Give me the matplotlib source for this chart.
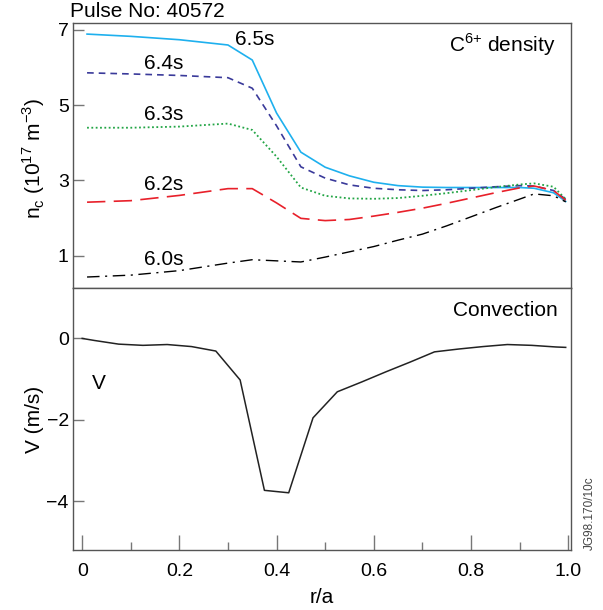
import matplotlib.pyplot as plt
import numpy as np

plt.rcParams['font.family'] = ['Liberation Sans', 'DejaVu Sans']

# radial positions (r/a) for the density profiles
r_n = [0.01, 0.1, 0.2, 0.3, 0.35, 0.4, 0.45, 0.5, 0.55, 0.6, 0.65, 0.7,
       0.75, 0.8, 0.85, 0.9, 0.93, 0.97, 0.995]

# C6+ density (10^17 m^-3) at each time
n_65 = [6.89, 6.83, 6.74, 6.60, 6.20, 4.79, 3.75, 3.35, 3.12, 2.95, 2.86, 2.82,
        2.81, 2.81, 2.81, 2.81, 2.79, 2.67, 2.44]
n_64 = [5.86, 5.83, 5.79, 5.73, 5.45, 4.45, 3.36, 3.06, 2.88, 2.79, 2.75, 2.73,
        2.75, 2.79, 2.83, 2.86, 2.85, 2.73, 2.50]
n_63 = [4.40, 4.40, 4.43, 4.51, 4.34, 3.63, 2.81, 2.59, 2.52, 2.51, 2.53, 2.59,
        2.66, 2.74, 2.82, 2.89, 2.92, 2.83, 2.50]
n_62 = [2.42, 2.46, 2.60, 2.78, 2.78, 2.40, 1.99, 1.93, 1.96, 2.05, 2.15, 2.26,
        2.39, 2.53, 2.67, 2.80, 2.85, 2.73, 2.47]
n_60 = [0.43, 0.48, 0.60, 0.80, 0.89, 0.86, 0.83, 0.96, 1.10, 1.24, 1.41, 1.57,
        1.79, 2.03, 2.27, 2.50, 2.64, 2.59, 2.43]

# convection velocity profile
r_v = [0.0, 0.025, 0.075, 0.125, 0.175, 0.225, 0.275, 0.325, 0.375, 0.425,
       0.475, 0.525, 0.575, 0.625, 0.675, 0.725, 0.775, 0.825, 0.875, 0.925,
       0.975, 0.995]
v = [0.0, -0.05, -0.14, -0.17, -0.15, -0.2, -0.31, -1.02, -3.73, -3.79,
     -1.95, -1.31, -1.07, -0.82, -0.58, -0.33, -0.26, -0.2, -0.15, -0.17,
     -0.21, -0.22]

x_ticks = [0, 0.2, 0.4, 0.6, 0.8, 1.0]
x_labels = ['0', '0.2', '0.4', '0.6', '0.8', '1.0']

fs = 15

fig = plt.figure(figsize=(6.03, 6.10), dpi=100)
ax1 = fig.add_axes([0.121, 0.528, 0.826, 0.434])
ax2 = fig.add_axes([0.121, 0.098, 0.826, 0.430], sharex=ax1)

spine_c = '#555555'
for ax in (ax1, ax2):
    for s in ax.spines.values():
        s.set_color(spine_c)
        s.set_linewidth(1.0)
    ax.tick_params(direction='in', length=8, width=1.0, color='#777777',
                   labelsize=14, pad=3)

# top panel
ax1.plot(r_n, n_65, color='#1eb0ee', lw=1.2, ls='-')
ax1.plot(r_n, n_64, color='#3a3a9a', lw=1.2, ls=(0, (4, 3)))
ax1.plot(r_n, n_63, color='#22a545', lw=1.3, ls=(0, (1, 1.4)))
ax1.plot(r_n, n_62, color='#e8202a', lw=1.2, ls=(0, (11, 5)))
ax1.plot(r_n, n_60, color='black', lw=1.0, ls=(0, (9, 4, 1.5, 4)))
ax1.set_ylim(0.14, 7.18)
ax1.set_yticks([1, 3, 5, 7])
ax1.tick_params(axis='x', bottom=False, labelbottom=False)
ax1.set_ylabel('n$_\\mathregular{c}$ (10$^\\mathregular{17}$ m$^\\mathregular{-3}$)',
               fontsize=fs)
ax1.yaxis.set_label_coords(-0.053, 0.49)

lab_kw = dict(fontsize=fs, ha='left', va='center')
ax1.text(0.315, 6.74, '6.5s', **lab_kw)
ax1.text(0.128, 6.12, '6.4s', **lab_kw)
ax1.text(0.128, 4.74, '6.3s', **lab_kw)
ax1.text(0.128, 2.88, '6.2s', **lab_kw)
ax1.text(0.128, 0.89, '6.0s', **lab_kw)
ax1.text(0.968, 0.92, 'C$^\\mathregular{6{+}}$ density', transform=ax1.transAxes,
         fontsize=fs, ha='right', va='center')

# bottom panel
ax2.plot(r_v, v, color='#222222', lw=1.1)
ax2.set_ylim(-5.2, 1.24)
ax2.set_yticks([-4, -2, 0])
ax2.set_xlim(-0.019, 1.006)
ax2.set_xticks(x_ticks)
ax2.set_xticklabels(x_labels)
ax2.set_xticks([0.1, 0.3, 0.5, 0.7, 0.9], minor=True)
ax2.tick_params(axis='x', which='major', length=11, pad=9)
ax2.tick_params(axis='x', which='minor', direction='in', length=6, width=1.0,
                color='#777777')
ax2.set_ylabel('V (m/s)', fontsize=fs)
ax2.yaxis.set_label_coords(-0.058, 0.5)
ax2.set_xlabel('r/a', fontsize=fs, labelpad=6)
ax2.text(0.974, 0.915, 'Convection', transform=ax2.transAxes,
         fontsize=fs, ha='right', va='center')
ax2.text(0.02, -1.1, 'V', fontsize=fs, ha='left', va='center')

fig.text(0.116, 0.972, 'Pulse No: 40572', fontsize=fs, ha='left', va='baseline')
fig.text(0.978, 0.099, 'JG98.170/10c', fontsize=8.5, rotation=90,
         ha='center', va='bottom', color='#444444')

fig.savefig('out.png', dpi=100)
